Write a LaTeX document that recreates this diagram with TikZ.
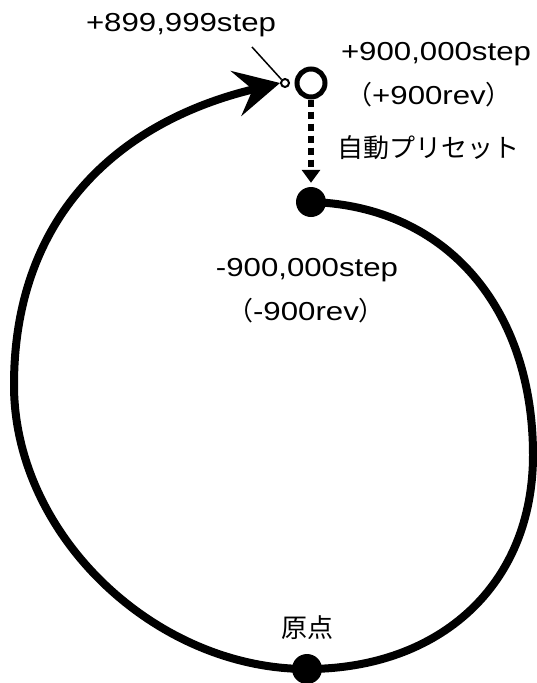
\documentclass[tikz,border=0pt]{standalone}
\usepackage{fontspec}
\setmainfont{Liberation Sans}[FakeStretch=1.2]
\newfontfamily\jp{Noto Sans CJK JP}
\usetikzlibrary{arrows.meta}

\begin{document}
\begin{tikzpicture}[x=1pt,y=-1pt,
    lbl/.style={inner sep=0pt,font=\fontsize{26}{30}\selectfont},
    dot/.style={circle,fill,inner sep=0pt,minimum size=30pt},
    ring/.style={circle,draw,line width=5pt,fill=white,inner sep=0pt,minimum size=28pt},
    tick/.style={circle,draw,line width=2pt,fill=white,inner sep=0pt,minimum size=8pt},
    track/.style={line width=8pt,-{Stealth[length=45pt,width=46pt,inset=17pt]}},
    preset/.style={line width=6pt,dash pattern=on 7pt off 5pt,-{Triangle[length=13pt,width=18pt]},shorten >=4pt}]
  \useasboundingbox (0,0) rectangle (536,683);
  \node[dot] (minus) at (311,202) {};
  \node[dot] (origin) at (307,669) {};
  \node[ring] (plus) at (311,83) {};
  \node[tick] (last) at (285,83) {};
  % one turn, from -900,000 round to +899,999
  \draw[track] (minus.center) .. controls (448,206) and (533,310) .. (533,455)
    .. controls (533,585) and (440,669) .. (origin.center)
    .. controls (155,669) and (14,535) .. (14,385)
    .. controls (14,215) and (120,121) .. (last.west);
  \draw[preset] (plus) -- (minus);
  \coordinate (lead) at (252,47);
  \draw[line width=1.5pt] (lead) -- (last.north west);
  \node[lbl] (l899) at (181,25) {+899,999step};
  \node[lbl] (lplus) at (436,54) {+900,000step};
  \node[lbl] (lplusrev) at (429,95) {{\jp （}+900rev{\jp ）}};
  \node[lbl] (lpreset) at (428,148) {\jp 自動プリセット};
  \node[lbl] (lminus) at (307,270) {-900,000step};
  \node[lbl] (lminusrev) at (306,311) {{\jp （}-900rev{\jp ）}};
  \node[lbl] (lorigin) at (307,628) {\jp 原点};
\end{tikzpicture}
\end{document}
